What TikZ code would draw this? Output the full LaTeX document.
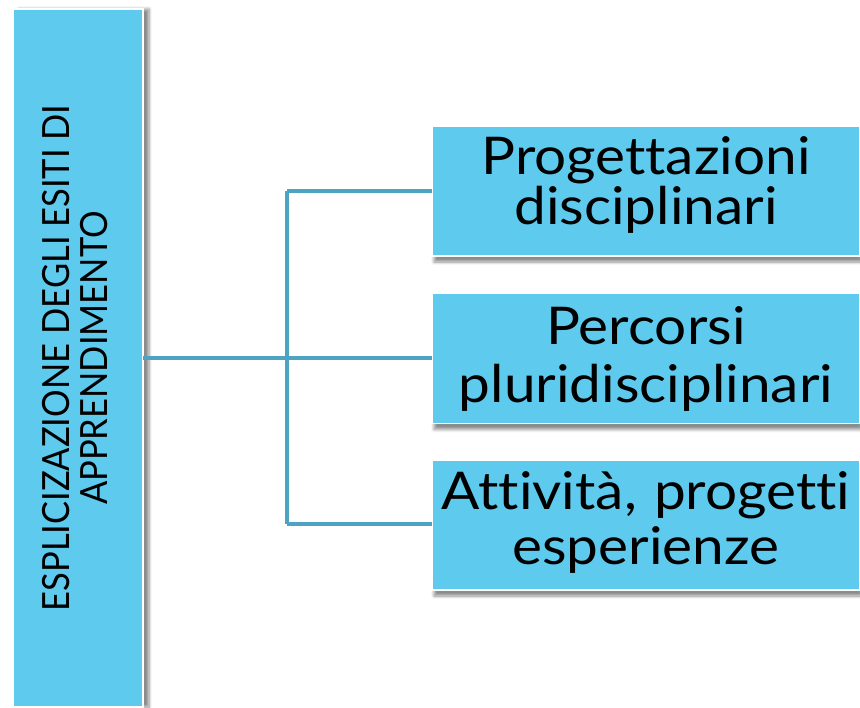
\documentclass[tikz,border=0pt]{standalone}
\usepackage{fontspec}
\setmainfont{Lato}[Ligatures=NoCommon]
\newfontfamily\wideboxfont{Lato}[Ligatures=NoCommon, FakeStretch=1.09]
\newfontfamily\narrowboxfont{Lato}[Ligatures=NoCommon, FakeStretch=0.92]
\usetikzlibrary{shadows.blur}
\definecolor{boxblue}{HTML}{5ECBEE}
\definecolor{linkblue}{HTML}{4DA3C2}
\begin{document}
\begin{tikzpicture}[x=1pt,y=-1pt,
  bluebox/.style={draw=white, line width=1.5pt, fill=boxblue, inner sep=0pt, outer sep=0pt},
  rightbox/.style={bluebox, minimum width=428pt, minimum height=130pt,
    blur shadow={shadow xshift=2pt, shadow yshift=-6pt, shadow blur steps=6, shadow blur radius=3pt, shadow opacity=45}},
  boxtext/.style={inner sep=0pt, text width=428pt, align=center},
  link/.style={draw=linkblue, line width=3.5pt}
]
\useasboundingbox (0,0) rectangle (860,708);
\node[bluebox, minimum width=130pt, minimum height=698pt,
  blur shadow={shadow xshift=6pt, shadow yshift=0pt, shadow blur steps=6, shadow blur radius=3pt, shadow opacity=45}]
  (L) at (78,358) {};
\node[inner sep=0pt, rotate=90] (LT) at (81,358)
  {\narrowboxfont\fontsize{37.5}{39}\selectfont\begin{tabular}{@{}c@{}}ESPLICIZAZIONE DEGLI ESITI DI\\[-1pt] APPRENDIMENTO\end{tabular}};
\node[rightbox] (P1) at (646,191) {};
\node[rightbox] (P2) at (646,358.5) {};
\node[rightbox] (P3) at (646,525) {};
\node[boxtext, font=\wideboxfont\fontsize{52}{50}\selectfont] (T1) at (646,185) {Progettazioni\\disciplinari};
\node[boxtext, font=\wideboxfont\fontsize{52}{58}\selectfont] (T2) at (646,359) {Percorsi\\pluridisciplinari};
\node[boxtext, font=\wideboxfont\fontsize{52}{55}\selectfont] (T3) at (646,522) {Attività, progetti\\esperienze};
\coordinate (J) at (287,358);
\draw[link] (L.east |- J) -- (J -| P2.west);
\draw[link] (J |- 0,191) -- (P1.west |- 0,191);
\draw[link] (J |- 0,524) -- (P3.west |- 0,524);
\draw[link] (J |- 0,191) -- (J |- 0,524);
\end{tikzpicture}
\end{document}
